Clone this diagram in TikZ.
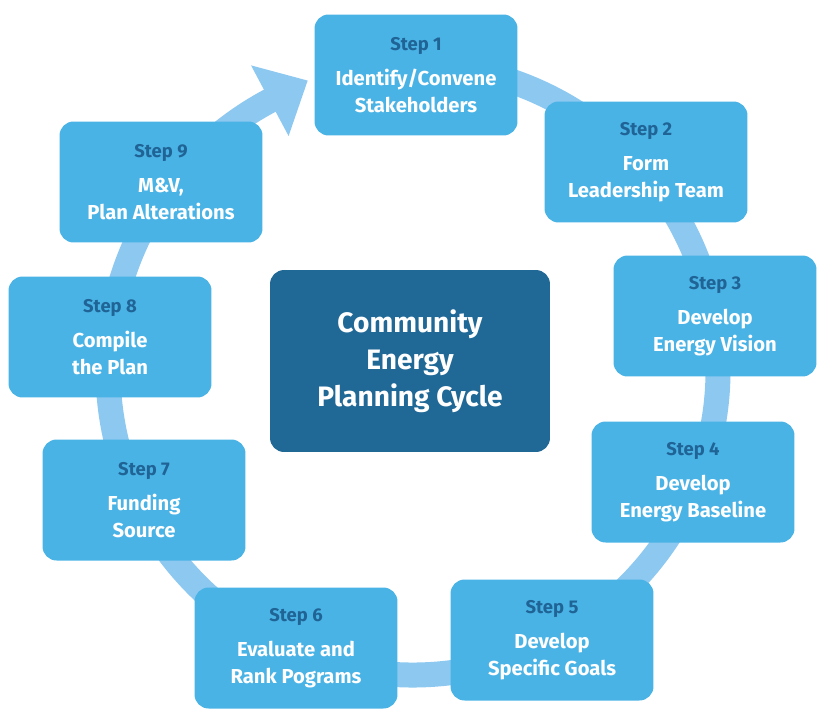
\documentclass[tikz,border=0pt]{standalone}
\usepackage{fontspec}
\setmainfont{Fira Sans}
\usetikzlibrary{calc}
\definecolor{boxblue}{RGB}{74,179,230}
\definecolor{ringblue}{RGB}{140,200,240}
\definecolor{labelblue}{RGB}{32,100,150}
\definecolor{coreblue}{RGB}{32,104,150}
\begin{document}
\begin{tikzpicture}[x=0.02cm, y=-0.02cm,
	stepbox/.style = {fill=boxblue, rounded corners=8pt, minimum width=4.06cm, minimum height=2.42cm, align=center, text=white, font=\bfseries\fontsize{11.5}{15}\selectfont},
	core/.style = {fill=coreblue, rounded corners=8pt, minimum width=5.6cm, minimum height=3.64cm, align=center, text=white, font=\bfseries\fontsize{16}{21}\selectfont},]
	
	\useasboundingbox (0,0) rectangle (830,720);
	\coordinate (O) at (413,370);
	
	% ring with arrow
	\draw[ringblue, line width=0.5cm] ($(O)+(265:305)$) arc[start angle=265, end angle=603, radius=305];
	\fill[ringblue] ($(O)+(242:265)$) -- ($(O)+(250:308)$) -- ($(O)+(242:345)$) -- cycle;
	
	\newcommand{\steplabel}[1]{{\color{labelblue}\fontsize{10.5}{13}\selectfont Step #1}\\[5pt]}
	
	\node[stepbox] (S1) at (416,75)  {\steplabel{1}Identify/Convene\\Stakeholders};
	\node[stepbox] (S2) at (646,162) {\steplabel{2}Form\\Leadership Team};
	\node[stepbox] (S3) at (715,316) {\steplabel{3}Develop\\Energy Vision};
	\node[stepbox] (S4) at (693,482) {\steplabel{4}Develop\\Energy Baseline};
	\node[stepbox] (S5) at (552,640) {\steplabel{5}Develop\\Specific Goals};
	\node[stepbox] (S6) at (296,648) {\steplabel{6}Evaluate and\\Rank Pograms};
	\node[stepbox] (S7) at (144,500) {\steplabel{7}Funding\\Source};
	\node[stepbox] (S8) at (110,337) {\steplabel{8}Compile\\the Plan};
	\node[stepbox] (S9) at (161,182) {\steplabel{9}M\&V,\\Plan Alterations};
	
	\node[core] (C) at (410,361) {Community\\Energy\\Planning Cycle};
	
\end{tikzpicture}
\end{document}
